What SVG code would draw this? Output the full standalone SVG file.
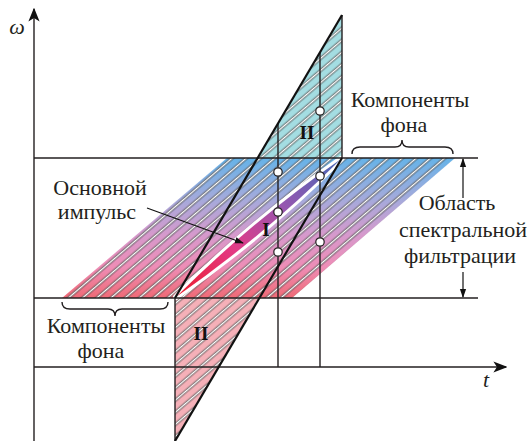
<svg xmlns="http://www.w3.org/2000/svg" width="530" height="441" viewBox="0 0 530 441">
<style>
.txt{font-family:"Liberation Serif","DejaVu Serif","Times New Roman",serif;font-size:22px;fill:#231f20;text-anchor:middle}
.it{font-style:italic}
.rn{font-family:"Liberation Serif","DejaVu Serif",serif;font-weight:bold;font-size:19px;fill:#111;text-anchor:middle}
.ln{stroke:#231f20;stroke-width:1.4;fill:none}
.thick{stroke:#111;stroke-width:2.2;fill:none}
.dot{fill:#fff;stroke:#231f20;stroke-width:1.2}
</style>
<defs>
<pattern id="hatch" patternUnits="userSpaceOnUse" width="10" height="9.2" patternTransform="rotate(-40.5)">
<rect x="0" y="3.2" width="10" height="2" fill="#fff"/>
<line x1="0" y1="3" x2="10" y2="3" stroke="#333" stroke-width="0.7"/>
<line x1="0" y1="5.4" x2="10" y2="5.4" stroke="#333" stroke-width="0.7"/>
</pattern>
<linearGradient id="bandGrad" gradientUnits="userSpaceOnUse" x1="0" y1="158" x2="0" y2="298">
<stop offset="0" stop-color="#66b3e8"/>
<stop offset="0.3" stop-color="#a6aadb"/>
<stop offset="0.55" stop-color="#d699cc"/>
<stop offset="0.78" stop-color="#ee8db6"/>
<stop offset="1" stop-color="#ef6a76"/>
</linearGradient>
<linearGradient id="pulseGrad" gradientUnits="userSpaceOnUse" x1="176" y1="298" x2="342" y2="158">
<stop offset="0" stop-color="#ec1c2a"/>
<stop offset="0.35" stop-color="#e33a86"/>
<stop offset="0.65" stop-color="#9656b0"/>
<stop offset="1" stop-color="#4668b6"/>
</linearGradient>
<marker id="ah" viewBox="0 0 10 10" refX="9" refY="5" markerWidth="9" markerHeight="9" orient="auto" markerUnits="userSpaceOnUse">
<path d="M0,1.5 L10,5 L0,8.5 Z" fill="#111"/>
</marker>
<marker id="axh" viewBox="0 0 10 10" refX="9" refY="5" markerWidth="14" markerHeight="14" orient="auto" markerUnits="userSpaceOnUse">
<path d="M0,1 L10,5 L0,9 L2.5,5 Z" fill="#111"/>
</marker>
</defs>
<rect width="530" height="441" fill="#fff"/>

<g id="band">
<polygon points="62,298 292,298 455,158 227,158" fill="url(#bandGrad)"/>
<polygon points="62,298 292,298 455,158 227,158" fill="url(#hatch)"/>
</g>
<g id="region-II-upper">
<polygon points="257,158 342,15 342,158" fill="#a4dde2"/>
<polygon points="257,158 342,15 342,158" fill="url(#hatch)"/>
<text class="rn" x="307" y="139">II</text>
</g>
<g id="region-II-lower">
<polygon points="175,298 258,298 175,441" fill="#f5b0b8"/>
<polygon points="175,298 258,298 175,441" fill="url(#hatch)"/>
<text class="rn" x="201" y="340">II</text>
</g>
<g id="main-pulse">
<path d="M176,297 Q252,221 341,159 Q265,235 176,297 Z" fill="#fff" stroke="#fff" stroke-width="6" stroke-linejoin="round"/>
<path d="M176,297 Q252,221 341,159 Q265,235 176,297 Z" fill="url(#pulseGrad)"/>
<text class="rn" x="266" y="236">I</text>
</g>

<g id="connectors">
<line class="ln" x1="34" y1="441" x2="34" y2="9" marker-end="url(#axh)"/>
<line class="ln" x1="34" y1="367" x2="506" y2="367" marker-end="url(#axh)"/>
<line class="ln" x1="34" y1="158" x2="478" y2="158"/>
<line class="ln" x1="34" y1="298" x2="478" y2="298"/>
<line class="ln" x1="278" y1="123" x2="278" y2="367"/>
<line class="ln" x1="320" y1="52" x2="320" y2="367"/>
<line class="ln" x1="342" y1="15" x2="342" y2="158"/>
<line class="ln" x1="175" y1="298" x2="175" y2="441"/>
<line class="thick" x1="175" y1="298" x2="342" y2="15"/>
<line class="thick" x1="175" y1="441" x2="342" y2="158"/>
<line stroke="#111" stroke-width="1.2" x1="147" y1="208" x2="243" y2="243" marker-end="url(#ah)"/>
<line stroke="#111" stroke-width="1.2" x1="463" y1="198" x2="463" y2="159" marker-end="url(#ah)"/>
<line stroke="#111" stroke-width="1.2" x1="463" y1="272" x2="463" y2="297" marker-end="url(#ah)"/>
<path class="ln" stroke-width="1.2" d="M352,154 Q352,147 360,147 L395,147 Q402,147 402,140 Q402,147 409,147 L445,147 Q453,147 453,154"/>
<path class="ln" stroke-width="1.2" d="M62,302 Q62,309 70,309 L108,309 Q115,309 115,316 Q115,309 122,309 L160,309 Q168,309 168,302"/>
</g>

<g id="points">
<circle class="dot" cx="320" cy="111" r="4.2"/>
<circle class="dot" cx="278" cy="172" r="4.2"/>
<circle class="dot" cx="320" cy="176" r="4.2"/>
<circle class="dot" cx="278" cy="212" r="4.2"/>
<circle class="dot" cx="278" cy="252" r="4.2"/>
<circle class="dot" cx="320" cy="242" r="4.2"/>
</g>

<g id="labels" font-family="Liberation Serif, DejaVu Serif, serif">
<text class="txt it" x="17" y="34">ω</text>
<text class="txt it" x="486" y="387">t</text>
<text class="txt" x="410" y="107">Компоненты</text>
<text class="txt" x="404" y="132">фона</text>
<text class="txt" x="100" y="195">Основной</text>
<text class="txt" x="97" y="219">импульс</text>
<text class="txt" x="457" y="210">Область</text>
<text class="txt" x="463" y="237">спектральной</text>
<text class="txt" x="460" y="263">фильтрации</text>
<text class="txt" x="106" y="333">Компоненты</text>
<text class="txt" x="101" y="358">фона</text>
</g>
</svg>
